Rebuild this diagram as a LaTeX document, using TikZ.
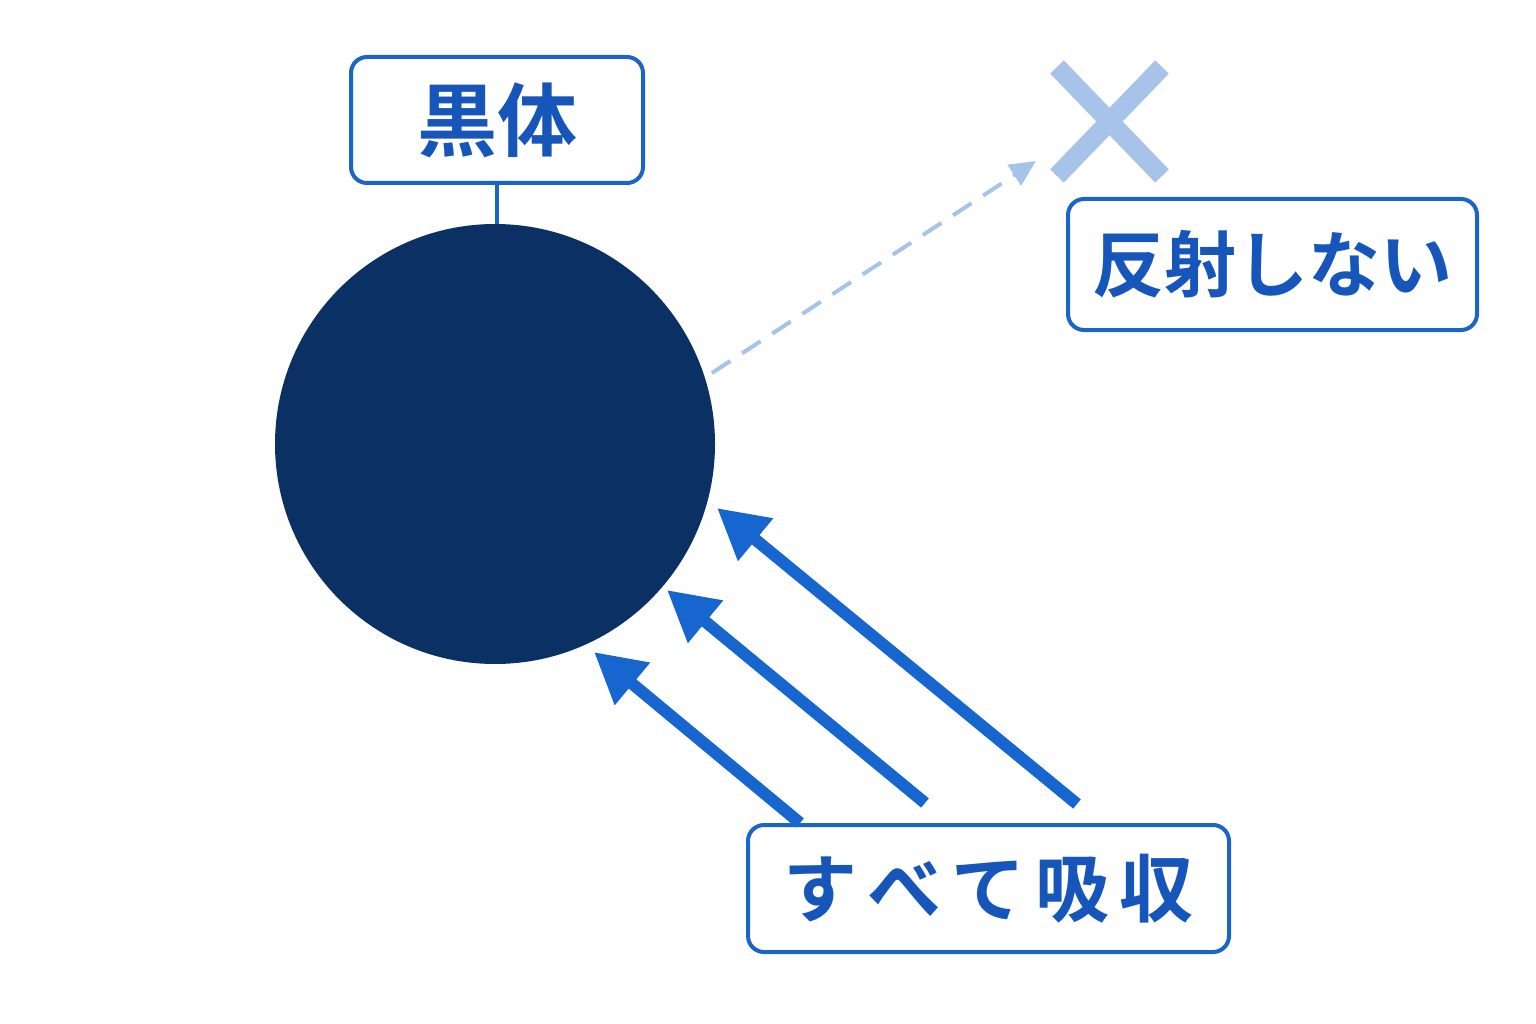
\documentclass[tikz,border=0pt]{standalone}
\usepackage{fontspec}
\newfontfamily\jp{Noto Sans CJK JP Bold}
\usetikzlibrary{arrows.meta}
\definecolor{ballc}{HTML}{0B3064}
\definecolor{boxc}{HTML}{1A66C8}
\definecolor{txtc}{HTML}{1656BA}
\definecolor{arrc}{HTML}{1766D0}
\definecolor{lightc}{HTML}{A8C3EA}
\tikzset{
  lbl/.style={draw=boxc, line width=4pt, rounded corners=16pt, fill=white, text=txtc, font=\jp, inner sep=0pt, anchor=north west},
  absorb/.style={draw=arrc, line width=12pt, -{Triangle[length=50pt,width=52pt]}},
}
\begin{document}
\begin{tikzpicture}[x=1pt,y=-1pt]
\useasboundingbox (0,0) rectangle (1536,1024);
\fill[white] (0,0) rectangle (1536,1024);
\node[circle, fill=ballc, minimum size=440pt, inner sep=0pt] (ball) at (495,444) {};
\node[lbl, minimum width=292pt, minimum height=126pt, font=\jp\fontsize{80}{80}\selectfont] (bb) at (349,55) {黒体};
\draw[boxc, line width=4pt] (bb.south) -- (bb.south |- ball.north);
\node[lbl, minimum width=409pt, minimum height=131pt, font=\jp\fontsize{72}{72}\selectfont] (nr) at (1066,197) {反射しない};
\node[lbl, minimum width=481pt, minimum height=127pt, font=\jp\fontsize{74}{74}\selectfont] (ab) at (746,823) {す\hspace{10pt}べ\hspace{10pt}て\hspace{10pt}吸\hspace{10pt}収};
% X mark
\coordinate (xa) at (1057,67);
\coordinate (xb) at (1162,176);
\coordinate (xc) at (1162,67);
\coordinate (xd) at (1057,176);
\draw[lightc, line width=19pt] (xa) -- (xb) (xc) -- (xd);
% dashed reflection
\coordinate (rs) at (712,373);
\coordinate (re) at (1036,161);
\draw[lightc, line width=4pt, dash pattern=on 22pt off 14pt, -{Triangle[length=26pt,width=24pt]}] (rs) -- (re);
% absorbed rays
\coordinate (a1s) at (1077,804);
\coordinate (a1e) at (717,508);
\coordinate (a2s) at (925,803);
\coordinate (a2e) at (667,590);
\coordinate (a3s) at (800,823);
\coordinate (a3e) at (594,652);
\draw[absorb] (a1s) -- (a1e);
\draw[absorb] (a2s) -- (a2e);
\draw[absorb] (a3s) -- (a3e);
\end{tikzpicture}
\end{document}
